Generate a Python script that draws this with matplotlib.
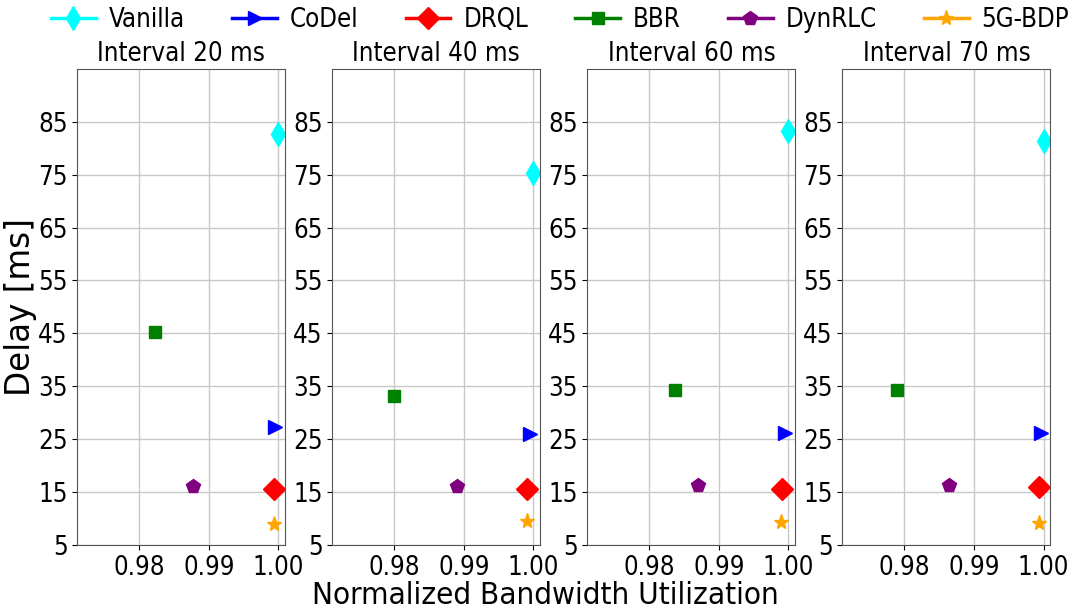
import matplotlib
matplotlib.use("Agg")
import matplotlib.pyplot as plt
from matplotlib.lines import Line2D

plt.rcParams["font.family"] = ["DejaVu Sans"]
plt.rcParams["font.stretch"] = "condensed"

# Data
intervals = ["Interval 20 ms", "Interval 40 ms", "Interval 60 ms", "Interval 70 ms"]
schemes = ["Vanilla", "CoDel", "DRQL", "BBR", "DynRLC", "5G-BDP"]
colors = ["cyan", "blue", "red", "green", "purple", "orange"]
markers = ["d", ">", "D", "s", "p", "*"]
sizes = [12, 10, 11, 9, 10, 11]

# Normalized bandwidth utilization per interval (order follows schemes)
util_20 = [0.9999, 0.9995, 0.9994, 0.9823, 0.9878, 0.9994]
util_40 = [1.0000, 0.9995, 0.9991, 0.9800, 0.9890, 0.9991]
util_60 = [1.0000, 0.9995, 0.9991, 0.9837, 0.9870, 0.9990]
util_70 = [1.0000, 0.9996, 0.9993, 0.9789, 0.9864, 0.9993]

# Delay [ms] per interval
delay_20 = [82.6, 27.3, 15.6, 45.3, 16.2, 9.0]
delay_40 = [75.3, 26.0, 15.6, 33.2, 16.1, 9.5]
delay_60 = [83.2, 26.1, 15.6, 34.3, 16.3, 9.3]
delay_70 = [81.3, 26.1, 15.9, 34.2, 16.3, 9.2]

utils = [util_20, util_40, util_60, util_70]
delays = [delay_20, delay_40, delay_60, delay_70]

fig, axes = plt.subplots(1, 4, figsize=(10.73, 6.15), dpi=100)
fig.subplots_adjust(left=0.072, right=0.979, top=0.888, bottom=0.114, wspace=0.226)

for ax, title, u, d in zip(axes, intervals, utils, delays):
    for i in range(len(schemes)):
        ax.plot(u[i], d[i], linestyle="none", marker=markers[i], color=colors[i],
                markersize=sizes[i])
    ax.set_title(title, fontsize=18.5)
    ax.set_xlim(0.9711, 1.001)
    ax.set_ylim(5, 95)
    ax.set_xticks([0.98, 0.99, 1.00])
    ax.set_xticklabels(["0.98", "0.99", "1.00"])
    ax.set_yticks(range(5, 90, 10))
    ax.tick_params(labelsize=18.5)
    ax.grid(True, color="#c8c8c8", linewidth=1)
    ax.set_axisbelow(True)
    for s in ax.spines.values():
        s.set_color("#555555")

axes[0].set_ylabel("Delay [ms]", fontsize=23.5, fontstretch="normal", labelpad=0.5)
fig.text(0.508, 0.008, "Normalized Bandwidth Utilization", ha="center", va="bottom",
         fontsize=22.5)

handles = [Line2D([0], [0], color=c, marker=m, markersize=s, linewidth=2.5)
           for c, m, s in zip(colors, markers, sizes)]
fig.legend(handles, schemes, loc="upper center", bbox_to_anchor=(0.522, 1.027), ncol=6,
           frameon=False, fontsize=18.5, handlelength=1.75, handletextpad=0.5,
           columnspacing=1.83)

fig.savefig("out.png", dpi=100)
